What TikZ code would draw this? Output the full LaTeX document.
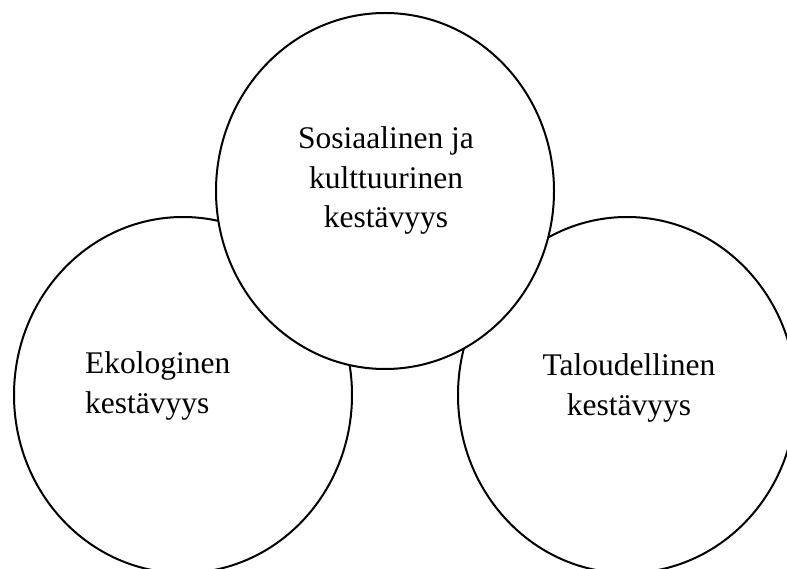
\documentclass[tikz,border=0pt]{standalone}
\usepackage{fontspec}
\setmainfont{Liberation Serif}
\usepackage{tikz}
\usetikzlibrary{shapes.geometric}

\begin{document}
\begin{tikzpicture}
[x=1pt,y=-1pt,
ring node/.style={ellipse, draw, line width=2pt, inner sep=0pt,
  minimum width=338pt, minimum height=356pt},
word node/.style={inner sep=0pt, font=\fontsize{31.5}{39.5}\selectfont}]

  \clip (0,0) rectangle (787,569);

  \node[ring node] (eko) at (183,395) {};
  \node[ring node] (talous) at (627,395) {};
  \node[ring node, fill=white] (sosiaali) at (385,191) {};

  % base anchor sits on the last line
  \node[word node, align=left, anchor=base west] (ekotext) at (85,413) {Ekologinen\\kestävyys};
  \node[word node, align=center, anchor=base] (taloustext) at (629,415) {Taloudellinen\\kestävyys};
  \node[word node, align=center, anchor=base] (sosiaalitext) at (386,228) {Sosiaalinen ja\\kulttuurinen\\kestävyys};

\end{tikzpicture}
\end{document}
